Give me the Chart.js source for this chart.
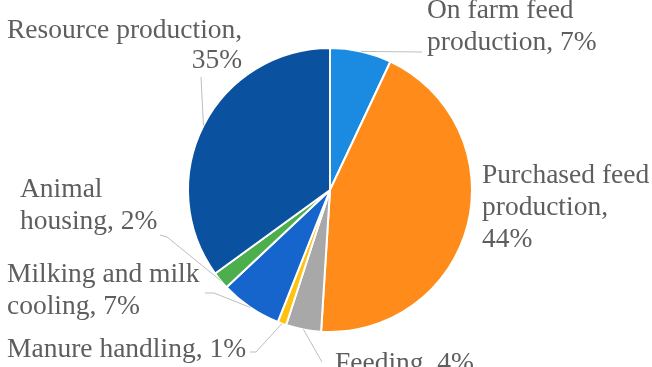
<!DOCTYPE html>
<html>
<head>
<meta charset="utf-8">
<script src="https://cdn.jsdelivr.net/npm/chart.js@4.4.1/dist/chart.umd.min.js"></script>
<style>
  html, body { margin: 0; padding: 0; background: #ffffff; }
  #wrap { width: 652px; height: 367px; position: relative; }
</style>
</head>
<body>
<div id="wrap"><canvas id="c" width="652" height="367"></canvas></div>
<script>
// Share of emissions by source (%), clockwise from 12 o'clock
const categories = [
  'On farm feed production',
  'Purchased feed production',
  'Feeding',
  'Manure handling',
  'Milking and milk cooling',
  'Animal housing',
  'Resource production'
];
const shares = [7, 44, 4, 1, 7, 2, 35];
const sliceColors = ['#1a8be0', '#ff8c1a', '#a8a8a8', '#ffc20e', '#1565cc', '#4cae4c', '#0a52a0'];

// Label placement: words per line, text anchor, alignment, and leader-line knee
const labelLayout = [
  { words: [3],    x: 427, y: 18,  align: 'left',  from: [[422, 52]] },
  { words: [2, 1], x: 482, y: 183, align: 'left',  from: null },
  { words: [],     x: 335, y: 371, align: 'left',  from: [[322, 362]] },
  { words: [],     x: 7,   y: 357, align: 'left',  from: [[250, 352], [256, 352]] },
  { words: [3],    x: 7,   y: 282, align: 'left',  from: [[205, 293], [214, 293]] },
  { words: [1],    x: 20,  y: 197, align: 'left',  from: [[160, 235], [167, 237]] },
  { words: [2],    x: 7,   y: 38,  align: 'split', from: [[201, 77]] }
];
const lineGap = 32;

function splitLines(text, breaks) {
  const w = text.split(' ');
  const out = [];
  let i = 0;
  breaks.forEach(n => { out.push(w.slice(i, i + n).join(' ')); i += n; });
  out.push(w.slice(i).join(' '));
  return out;
}

const labelPlugin = {
  id: 'sliceLabels',
  afterDatasetsDraw(chart) {
    const ctx = chart.ctx;
    const meta = chart.getDatasetMeta(0);
    ctx.save();
    ctx.font = '27.5px "Liberation Serif", "Times New Roman", serif';
    ctx.fillStyle = '#5e5e5e';
    ctx.textBaseline = 'alphabetic';
    meta.data.forEach((arc, i) => {
      const p = arc.getProps(['x', 'y', 'startAngle', 'endAngle', 'outerRadius'], true);
      const mid = (p.startAngle + p.endAngle) / 2;
      const ex = p.x + Math.cos(mid) * p.outerRadius;
      const ey = p.y + Math.sin(mid) * p.outerRadius;
      const L = labelLayout[i];
      if (L.from) {
        ctx.beginPath();
        ctx.strokeStyle = '#bdbdbd';
        ctx.lineWidth = 1;
        ctx.moveTo(L.from[0][0], L.from[0][1]);
        for (let k = 1; k < L.from.length; k++) ctx.lineTo(L.from[k][0], L.from[k][1]);
        ctx.lineTo(ex, ey);
        ctx.stroke();
      }
      const lines = splitLines(categories[i] + ', ' + shares[i] + '%', L.words);
      if (L.align === 'split') {
        // first line left-aligned, last line right-aligned under its end
        ctx.textAlign = 'left';
        ctx.fillText(lines[0], L.x, L.y);
        const right = L.x + ctx.measureText(lines[0]).width;
        ctx.textAlign = 'right';
        ctx.fillText(lines[1], right, L.y + 30);
      } else {
        ctx.textAlign = 'left';
        lines.forEach((t, k) => ctx.fillText(t, L.x, L.y + k * lineGap));
      }
    });
    ctx.restore();
  }
};

new Chart(document.getElementById('c'), {
  type: 'pie',
  data: {
    labels: categories,
    datasets: [{
      data: shares,
      backgroundColor: sliceColors,
      borderColor: '#ffffff',
      borderWidth: 2
    }]
  },
  options: {
    responsive: false,
    animation: false,
    layout: { padding: { left: 187, right: 179, top: 47, bottom: 34 } },
    plugins: {
      legend: { display: false },
      tooltip: { enabled: false }
    }
  },
  plugins: [labelPlugin]
});
</script>
</body>
</html>
